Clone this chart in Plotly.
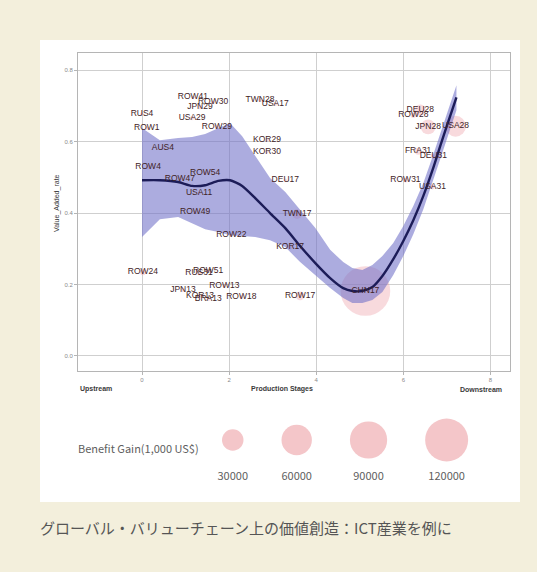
import numpy as np
import plotly.graph_objects as go

# ---- country-industry points: production stage, value-added rate, benefit gain (1,000 US$)
labels = ["RUS4", "ROW1", "ROW41", "ROW30", "JPN29", "USA29", "ROW29", "AUS4", "ROW4",
          "ROW47", "ROW54", "USA11", "ROW49", "ROW22", "ROW24", "RUS31", "ROW51", "ROW13",
          "JPN13", "KOR13", "BRA13", "ROW18", "TWN28", "USA17", "KOR29", "KOR30", "DEU17",
          "TWN17", "KOR17", "ROW17", "CHN17", "DEU28", "ROW28", "JPN28", "USA28", "FRA31",
          "DEU31", "ROW31", "USA31"]
stage = [0.00, 0.11, 1.17, 1.63, 1.33, 1.15, 1.72, 0.48, 0.14,
         0.87, 1.45, 1.31, 1.22, 2.05, 0.02, 1.31, 1.52, 1.89,
         0.94, 1.33, 1.52, 2.28, 2.71, 3.06, 2.87, 2.87, 3.29,
         3.56, 3.40, 3.63, 5.13, 6.39, 6.23, 6.57, 7.20, 6.34,
         6.69, 6.05, 6.67]
va_rate = [0.677, 0.638, 0.724, 0.710, 0.697, 0.666, 0.641, 0.582, 0.529,
           0.495, 0.512, 0.456, 0.403, 0.338, 0.235, 0.232, 0.238, 0.196,
           0.185, 0.168, 0.159, 0.165, 0.716, 0.705, 0.604, 0.571, 0.492,
           0.397, 0.305, 0.168, 0.182, 0.688, 0.674, 0.641, 0.643, 0.573,
           0.559, 0.492, 0.473]
benefit = [800, 900, 700, 900, 1500, 1200, 1500, 600, 1500,
           800, 900, 700, 600, 700, 2500, 1200, 1200, 800,
           1200, 1000, 900, 900, 1000, 900, 600, 600, 700,
           6000, 1500, 5000, 160000, 8000, 2000, 14000, 28000, 3000,
           2000, 1500, 1500]

# ---- smoothed fit and confidence band along the production stages
fit_x = [0.00, 0.41, 0.83, 1.15, 1.45, 1.75, 2.02, 2.30, 2.60, 2.94, 3.29, 3.63, 3.98, 4.32,
         4.62, 4.83, 5.06, 5.29, 5.52, 5.77, 6.00, 6.23, 6.46, 6.67, 6.87, 7.06, 7.22]
fit_y = [0.492, 0.492, 0.487, 0.476, 0.478, 0.490, 0.492, 0.476, 0.442, 0.400, 0.358, 0.308,
         0.260, 0.218, 0.190, 0.182, 0.182, 0.193, 0.224, 0.271, 0.322, 0.380, 0.448, 0.520,
         0.596, 0.666, 0.724]
fit_hi = [0.638, 0.604, 0.610, 0.613, 0.621, 0.638, 0.652, 0.615, 0.559, 0.498, 0.459, 0.408,
          0.358, 0.297, 0.263, 0.246, 0.241, 0.255, 0.280, 0.316, 0.364, 0.420, 0.484, 0.557,
          0.632, 0.699, 0.758]
fit_lo = [0.333, 0.383, 0.389, 0.372, 0.355, 0.347, 0.338, 0.336, 0.333, 0.324, 0.305, 0.263,
          0.227, 0.190, 0.162, 0.148, 0.148, 0.157, 0.179, 0.227, 0.280, 0.341, 0.411, 0.484,
          0.559, 0.629, 0.688]

# ---- bubble-size key
key_values = [30000, 60000, 90000, 120000]
x_ticks = [0, 2, 4, 6, 8]
y_ticks = [0.0, 0.2, 0.4, 0.6, 0.8]

W, H = 537, 572
BEIGE = "#f3efdc"
PINK = "rgba(238,160,166,0.55)"
KEY_PINK = "#f4c6c9"
LABEL_COL = "#3f2326"
GREY_TXT = "#5e5e5e"

# area-proportional bubbles: largest key value -> 43 px diameter
max_diam = 43.0
sizeref = (max(key_values) / 2) / (max_diam / 2) ** 2

fig = go.Figure()

# bubbles
fig.add_trace(go.Scatter(
    x=stage, y=va_rate, mode="markers",
    marker=dict(size=benefit, sizemode="area", sizeref=sizeref, sizemin=0,
                color=PINK, line=dict(width=0)),
    hoverinfo="skip", showlegend=False))

# confidence band
fig.add_trace(go.Scatter(x=fit_x, y=fit_lo, mode="lines", line=dict(width=0),
                         hoverinfo="skip", showlegend=False))
fig.add_trace(go.Scatter(x=fit_x, y=fit_hi, mode="lines", line=dict(width=0),
                         fill="tonexty", fillcolor="rgba(112,112,200,0.58)",
                         hoverinfo="skip", showlegend=False))
# smoothed line
fig.add_trace(go.Scatter(x=fit_x, y=fit_y, mode="lines",
                         line=dict(color="#1c1c58", width=2.4, shape="spline", smoothing=0.6),
                         hoverinfo="skip", showlegend=False))

# point labels
fig.add_trace(go.Scatter(
    x=stage, y=va_rate, mode="text", text=labels,
    textfont=dict(family="Liberation Sans, Arial, sans-serif", size=8.5, color=LABEL_COL),
    textposition="middle center", hoverinfo="skip", showlegend=False))

# bubble-size key on a pixel-scaled axis pair below the chart
KX0, KX1, KY0, KY1 = 40, 520, 405, 500
key_r = [max_diam / 2 * np.sqrt(v / max(key_values)) for v in key_values]
gap = 38.0
key_x = []
edge = 222.0
for r in key_r:
    key_x.append(edge + r)
    edge += 2 * r + gap
fig.add_trace(go.Scatter(
    x=key_x, y=[440.0] * len(key_values), mode="markers",
    marker=dict(size=key_values, sizemode="area", sizeref=sizeref, color=KEY_PINK,
                line=dict(width=0), opacity=1),
    xaxis="x2", yaxis="y2", hoverinfo="skip", showlegend=False, cliponaxis=False))
fig.add_trace(go.Scatter(
    x=key_x, y=[477.0] * len(key_values), mode="text",
    text=[str(v) for v in key_values],
    textfont=dict(family="Noto Sans CJK JP, sans-serif", size=11, color=GREY_TXT),
    xaxis="x2", yaxis="y2", hoverinfo="skip", showlegend=False, cliponaxis=False))

x0, x1 = 78, 510
yt, yb = 53, 371
axis_common = dict(showline=True, linecolor="#b5b5b5", linewidth=1, mirror=True,
                   showgrid=True, gridcolor="#cfcfcf", gridwidth=1, zeroline=False,
                   ticks="outside", ticklen=3, tickcolor="#b5b5b5",
                   tickfont=dict(family="Liberation Sans, Arial", size=6, color="#8a8a8a"))

fig.update_layout(
    width=W, height=H, margin=dict(l=0, r=0, t=0, b=0),
    paper_bgcolor=BEIGE, plot_bgcolor="white",
    xaxis=dict(domain=[x0 / W, x1 / W], range=[-1.47, 8.45], tickvals=x_ticks,
               ticktext=[str(v) for v in x_ticks], **axis_common),
    yaxis=dict(domain=[1 - yb / H, 1 - yt / H], range=[-0.042, 0.848], tickvals=y_ticks,
               ticktext=[f"{v:.1f}" for v in y_ticks], **axis_common),
    xaxis2=dict(domain=[KX0 / W, KX1 / W], range=[KX0, KX1], visible=False, anchor="y2",
                fixedrange=True),
    yaxis2=dict(domain=[1 - KY1 / H, 1 - KY0 / H], range=[KY1, KY0], visible=False,
                anchor="x2", fixedrange=True),
    shapes=[dict(type="rect", xref="paper", yref="paper", x0=40 / W, x1=520 / W,
                 y0=1 - 502 / H, y1=1 - 40 / H, fillcolor="white", line=dict(width=0),
                 layer="below")],
)

def px_note(text, x, y, size, color, xanchor="center", bold=False, angle=0,
            family="Liberation Sans, Arial, sans-serif"):
    fig.add_annotation(text=f"<b>{text}</b>" if bold else text,
                       xref="paper", yref="paper", x=x / W, y=1 - y / H,
                       xanchor=xanchor, yanchor="middle", showarrow=False, textangle=angle,
                       font=dict(family=family, size=size, color=color))

px_note("Upstream", 78, 389, 7, "#3a3a3a", xanchor="left", bold=True)
px_note("Production Stages", 282, 389, 7, "#3a3a3a", bold=True)
px_note("Downstream", 504, 389, 7, "#3a3a3a", xanchor="right", bold=True)
px_note("Value_Added_rate", 57, 203, 7, "#3a3a3a", angle=-90)
px_note("Benefit Gain(1,000 US$)", 76, 448, 11, GREY_TXT, xanchor="left",
        family="Noto Sans CJK JP, sans-serif")
px_note("グローバル・バリューチェーン上の価値創造：ICT産業を例に", 38, 527, 15, "#555555",
        xanchor="left", family="Noto Sans CJK JP, sans-serif")

fig.write_html("out.html")
